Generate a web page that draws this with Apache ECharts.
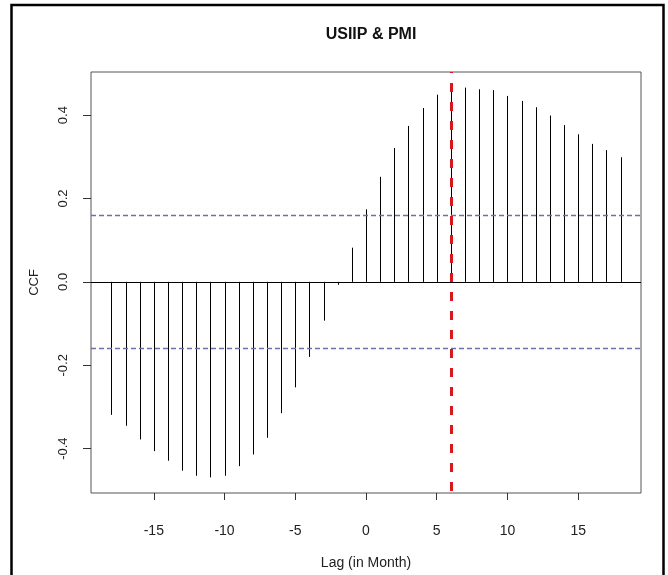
<!DOCTYPE html>
<html>
<head>
<meta charset="utf-8">
<title>USIIP & PMI</title>
<script src="https://cdn.jsdelivr.net/npm/echarts@6/dist/echarts.min.js"></script>
<style>
  html, body { margin: 0; padding: 0; background: #fff; }
  #chart { width: 668px; height: 575px; }
</style>
</head>
<body>
<div id="chart"></div>
<script>
// Cross-correlation of USIIP and PMI by lag (months)
const lags = [-18, -17, -16, -15, -14, -13, -12, -11, -10, -9, -8, -7, -6, -5, -4, -3, -2, -1,
              0, 1, 2, 3, 4, 5, 6, 7, 8, 9, 10, 11, 12, 13, 14, 15, 16, 17, 18];
const ccf = [-0.319, -0.345, -0.378, -0.406, -0.429, -0.453, -0.465, -0.469, -0.465, -0.442,
             -0.414, -0.374, -0.315, -0.253, -0.180, -0.093, -0.007, 0.082,
             0.174, 0.252, 0.321, 0.374, 0.417, 0.449, 0.462, 0.466, 0.462, 0.460, 0.446,
             0.434, 0.419, 0.399, 0.376, 0.354, 0.331, 0.316, 0.299];
const confBound = 0.164;      // approximate 95% band
const markedLag = 6;          // lag of peak lead
const xTicks = [-15, -10, -5, 0, 5, 10, 15];
const yTicks = [-0.4, -0.2, 0.0, 0.2, 0.4];

// R-style 4% padding around the data range
const xPad = (lags[lags.length - 1] - lags[0]) * 0.04;
const yLo = Math.min(...ccf, -confBound), yHi = Math.max(...ccf, confBound);
const yPad = (yHi - yLo) * 0.04;

const chart = echarts.init(document.getElementById('chart'), null, { renderer: 'canvas' });
const font = '"Liberation Sans", Arial, sans-serif';

chart.setOption({
  animation: false,
  backgroundColor: '#fff',
  title: {
    text: 'USIIP & PMI',
    left: 366, top: 22, textAlign: 'center',
    textStyle: { fontFamily: font, fontWeight: 'bold', fontSize: 16, color: '#111' }
  },
  grid: {
    left: 91, right: 27, top: 72, bottom: 82,
    show: true, borderColor: '#555', borderWidth: 1, backgroundColor: 'transparent'
  },
  xAxis: {
    type: 'value',
    min: lags[0] - xPad, max: lags[lags.length - 1] + xPad,
    name: 'Lag (in Month)', nameLocation: 'middle', nameGap: 63,
    nameTextStyle: { fontFamily: font, fontSize: 14, color: '#222' },
    axisLine: { show: false, onZero: false },
    splitLine: { show: false },
    axisTick: { show: true, customValues: xTicks, length: 7, lineStyle: { color: '#333' } },
    axisLabel: {
      customValues: xTicks, margin: 31,
      fontFamily: font, fontSize: 14, color: '#222',
      formatter: v => String(v)
    }
  },
  yAxis: {
    type: 'value',
    min: yLo - yPad, max: yHi + yPad,
    name: 'CCF', nameLocation: 'middle', nameGap: 50, nameRotate: 90,
    nameTextStyle: { fontFamily: font, fontSize: 13, color: '#222' },
    axisLine: { show: false, onZero: false },
    splitLine: { show: false },
    axisTick: { show: true, customValues: yTicks, length: 8, lineStyle: { color: '#333' } },
    axisLabel: {
      customValues: yTicks, rotate: 90, margin: 21,
      fontFamily: font, fontSize: 13, color: '#222',
      formatter: v => v.toFixed(1)
    }
  },
  series: [
    {
      type: 'custom',
      name: 'CCF',
      data: lags.map((l, i) => [l, ccf[i]]),
      renderItem: function (params, api) {
        const p0 = api.coord([api.value(0), 0]);
        const p1 = api.coord([api.value(0), api.value(1)]);
        const x = Math.round(p0[0]) + 0.5;
        return {
          type: 'line',
          shape: { x1: x, y1: p0[1], x2: x, y2: p1[1] },
          style: { stroke: '#000', lineWidth: 1 }
        };
      },
      markLine: {
        silent: true, symbol: 'none', label: { show: false },
        data: [
          { yAxis: 0, lineStyle: { color: '#000', width: 1, type: 'solid' } },
          { yAxis: confBound, lineStyle: { color: '#6f6fa8', width: 1.4, type: [5, 3] } },
          { yAxis: -confBound, lineStyle: { color: '#6f6fa8', width: 1.4, type: [5, 3] } },
          { xAxis: markedLag, lineStyle: { color: '#d9181e', width: 3, type: [9, 10], dashOffset: -2 } }
        ]
      },
      z: 3
    }
  ],
  graphic: [
    {
      type: 'rect',
      shape: { x: 11.5, y: 5, width: 652, height: 620 },
      style: { fill: 'none', stroke: '#000', lineWidth: 2.5 },
      silent: true, z: 100
    }
  ]
});
</script>
</body>
</html>
